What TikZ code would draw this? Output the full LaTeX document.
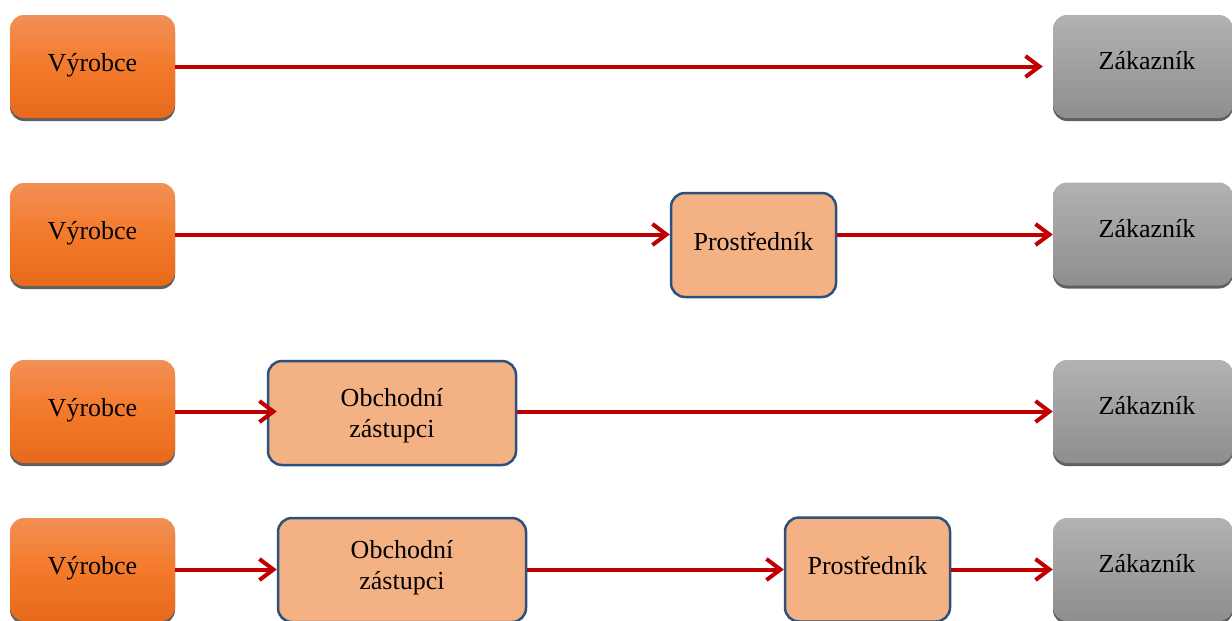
\documentclass[tikz,border=0pt]{standalone}
\usepackage{fontspec}
\setmainfont{Liberation Serif}
\usetikzlibrary{arrows.meta,shadows}
\definecolor{arrowred}{RGB}{192,0,0}
\definecolor{orTop}{RGB}{242,144,86}
\definecolor{orMid}{RGB}{243,122,42}
\definecolor{orBot}{RGB}{231,106,28}
\definecolor{grTop}{RGB}{178,178,178}
\definecolor{grBot}{RGB}{142,142,142}
\definecolor{salmon}{RGB}{244,177,131}
\definecolor{navy}{RGB}{42,82,124}
\definecolor{shadowgray}{RGB}{95,95,95}
\tikzset{
  base/.style={rectangle, rounded corners=14pt, inner sep=0pt, text=black,
    font=\fontsize{26}{31}\selectfont, align=center},
  one/.style={text height=15pt, text depth=5pt},
  prodbox/.style={base, one, minimum width=165pt, minimum height=103pt,
    top color=orTop, bottom color=orBot, middle color=orMid,
    drop shadow={shadow xshift=0pt, shadow yshift=-3pt, fill=shadowgray, opacity=1}},
  custbox/.style={base, text height=13pt, text depth=7pt, minimum width=180pt, minimum height=103pt,
    top color=grTop, bottom color=grBot,
    drop shadow={shadow xshift=0pt, shadow yshift=-3pt, fill=shadowgray, opacity=1}},
  midbox/.style={base, fill=salmon, draw=navy, line width=2.5pt, minimum height=104pt},
  flow/.style={draw=arrowred, line width=4pt,
    -{Straight Barb[length=14pt, width=21pt]}},
}
\newcommand{\zak}{\hspace*{8pt}Zákazník}
\begin{document}
\begin{tikzpicture}[x=1pt, y=-1pt]
\useasboundingbox (0,0) rectangle (1232,621);
% row 1
\node[prodbox] (v1) at (92.5,66.5) {Výrobce};
\node[custbox] (z1) at (1143,66.5) {\zak};
\draw[flow, shorten >=10pt] (v1.east) -- (z1.west);
% row 2
\node[prodbox] (v2) at (92.5,234.5) {Výrobce};
\node[midbox, one, minimum width=165pt] (p2) at (753.5,245) {Prostředník};
\node[custbox] (z2) at (1143,234) {\zak};
\draw[flow] (v2.east) -- (v2.east -| p2.west);
\draw[flow] (p2.east |- v2.east) -- (v2.east -| z2.west);
% row 3
\node[prodbox] (v3) at (92.5,411.5) {Výrobce};
\node[midbox, text height=50pt, text depth=1pt, minimum width=248pt] (o3) at (392,413) {Obchodní\\zástupci};
\node[custbox] (z3) at (1143,411.5) {\zak};
\draw[flow, shorten >=-10pt] (v3.east) -- (v3.east -| o3.west);
\draw[flow] (o3.east |- z3.west) -- (z3.west);
% row 4
\node[prodbox] (v4) at (92.5,569.5) {Výrobce};
\node[midbox, text height=42pt, text depth=3pt, minimum width=248pt] (o4) at (402,570) {Obchodní\\zástupci};
\node[midbox, one, minimum width=165pt] (p4) at (867.5,569.5) {Prostředník};
\node[custbox] (z4) at (1143,569.5) {\zak};
\draw[flow] (v4.east) -- (v4.east -| o4.west);
\draw[flow] (o4.east |- v4.east) -- (v4.east -| p4.west);
\draw[flow] (p4.east |- v4.east) -- (v4.east -| z4.west);
\end{tikzpicture}
\end{document}
